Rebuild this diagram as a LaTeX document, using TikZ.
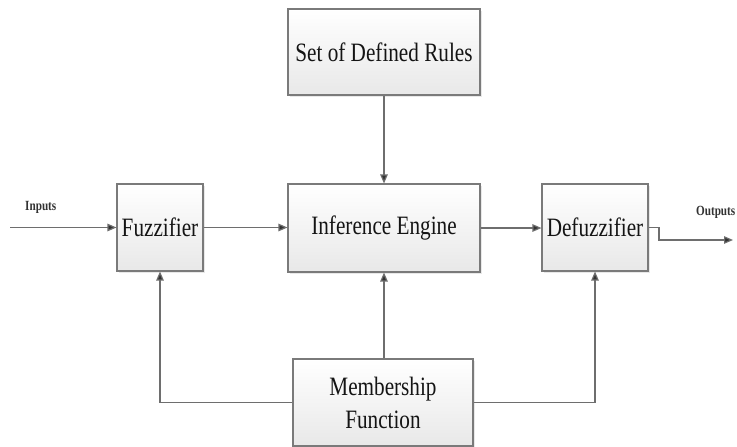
\documentclass[tikz,border=0pt]{standalone}
\usepackage{fontspec}
\setmainfont{Liberation Serif}[FakeStretch=0.8]
\usetikzlibrary{arrows.meta,shadows}
\definecolor{edge}{HTML}{6E6E6E}
\definecolor{frame}{HTML}{7A7A7A}
\tikzset{
  block/.style={draw=frame, line width=1.1pt, top color=white, bottom color=black!9,
    drop shadow={opacity=0.18, shadow xshift=1.5pt, shadow yshift=-1.5pt},
    inner sep=0pt, font=\fontsize{26.5}{33}\selectfont, text=black!92, align=center},
  link/.style={draw=edge, line width=1.2pt},
  arrowlink/.style={link, -{Triangle[length=9pt, width=7.5pt, fill=black!80]}},
  tag/.style={font=\fontsize{14}{16}\selectfont\bfseries, text=black!80, inner sep=0pt}
}
\begin{document}
\begin{tikzpicture}[x=1pt, y=-1pt]
  \useasboundingbox[fill=white] (0,0) rectangle (737,447);

  % processing blocks
  \node[block, minimum width=192pt, minimum height=86pt] (rules) at (384,52) {Set of Defined Rules};
  \node[block, minimum width=86pt, minimum height=87pt] (fuzz) at (160,227.5) {Fuzzifier};
  \node[block, minimum width=192pt, minimum height=88pt] (inf) at (384,228) {Inference Engine};
  \node[block, minimum width=106pt, minimum height=87pt] (defuzz) at (595,227.5) {Defuzzifier};
  \node[block, minimum width=180pt, minimum height=87pt] (memb) at (383,402.5) {Membership\\Function};

  % free ends of input and output lines
  \coordinate (in) at (10,227.5);
  \coordinate (stepA) at (659,227.5);
  \coordinate (stepB) at (659,240);
  \coordinate (out) at (733,240);

  \node[tag, anchor=south west] (inlabel) at (25,214) {Inputs};
  \node[tag, anchor=south east] (outlabel) at (735.5,219) {Outputs};

  % signal flow
  \draw[arrowlink] (in) -- (fuzz.west);
  \draw[arrowlink] (fuzz.east) -- (fuzz.east -| inf.west);
  \draw[arrowlink] (inf.east) -- (inf.east -| defuzz.west);
  \draw[arrowlink] (rules.south) -- (inf.north);
  \draw[arrowlink] (memb.north -| inf.south) -- (inf.south);
  \draw[arrowlink] (memb.west) -| (fuzz.south);
  \draw[arrowlink] (memb.east) -| (defuzz.south);
  \draw[arrowlink] (defuzz.east) -- (stepA) -- (stepB) -- (out);
\end{tikzpicture}
\end{document}
